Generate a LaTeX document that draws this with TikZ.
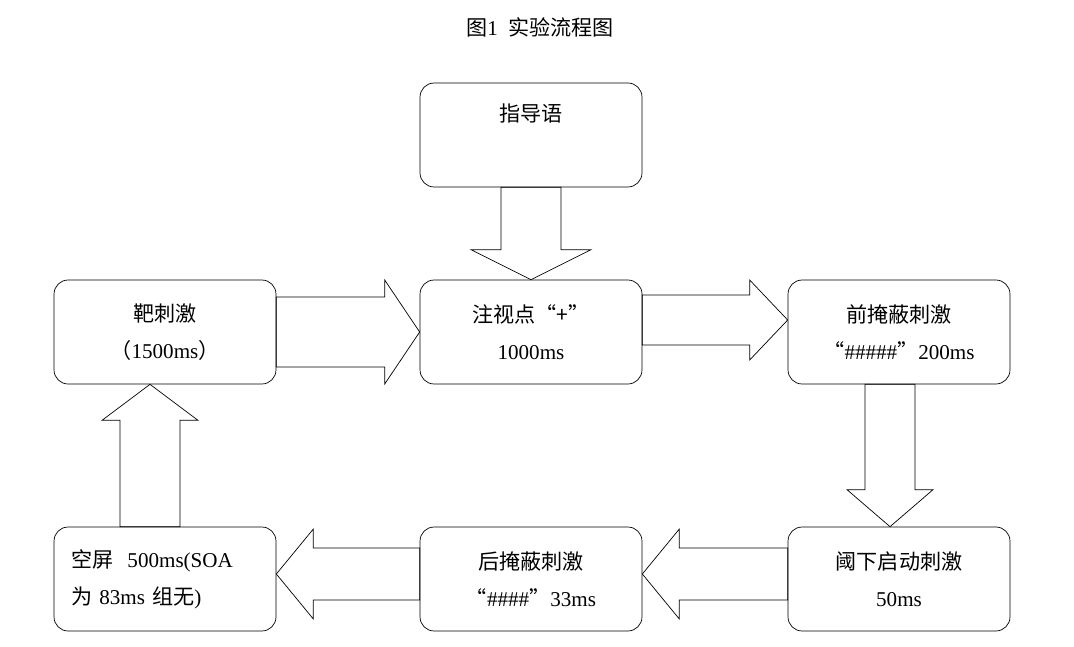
\documentclass[tikz,border=0pt]{standalone}
\usepackage{fontspec}
\setmainfont{Liberation Serif}
\newfontfamily\cjk{Noto Sans CJK SC}
\usetikzlibrary{calc,positioning}
\tikzset{
  step box/.style={
    draw,
    rounded corners=8pt,
    minimum width=4.44cm,
    minimum height=2.08cm,
    align=center,
    font=\fontsize{12}{21}\selectfont
  },
  block arrow/.style={
    draw,
    line join=miter
  }
}
% hollow block arrow: start, end, shaft half width, head half width, head length
\newcommand\barrow[5]{%
  \coordinate (bs) at (#1);
  \coordinate (be) at (#2);
  \coordinate (bh) at ($(be)!#5!(bs)$);
  \draw[block arrow] ($(bs)!#3!90:(be)$) -- ($(bh)!#3!90:(be)$)
    -- ($(bh)!#4!90:(be)$) -- (be) -- ($(bh)!#4!-90:(be)$)
    -- ($(bh)!#3!-90:(be)$) -- ($(bs)!#3!-90:(be)$) -- cycle;}
\begin{document}
\begin{tikzpicture}[x=0.02cm,y=-0.02cm]
  \useasboundingbox (0,0) rectangle (1074,646);
  \node[font=\fontsize{12}{14}\selectfont] (title) at (540,27) {{\cjk 图}1\ \ {\cjk 实验流程图}};
  \node[step box] (guide) at (531,135) {{\cjk 指导语}\\[0.16cm]\mbox{}};
  \node[step box] (tgt)   at (165,332) {{\cjk 靶刺激}\\{\cjk （}1500ms{\cjk ）}};
  \node[step box] (fix)   at (531,332) {{\cjk 注视点“+”}\\1000ms};
  \node[step box] (pre)   at (899,332) {{\cjk 前掩蔽刺激}\\{\cjk “}\#\#\#\#\#{\cjk ”}200ms};
  \node[step box,align=left,text width=3.75cm] (blank) at (165,579)
        {{\cjk 空屏}\ \ 500ms(SOA\\{\cjk 为} 83ms {\cjk 组无})};
  \node[step box] (post)  at (531,579) {{\cjk 后掩蔽刺激}\\{\cjk “}\#\#\#\#{\cjk ”}33ms};
  \node[step box] (thr)   at (899,579) {{\cjk 阈下启动刺激}\\50ms};
  % block arrows between the steps
  \barrow{guide.south}{fix.north}{0.6cm}{1.2cm}{0.6cm}
  \barrow{tgt.east}{fix.west}{0.7cm}{1.04cm}{0.7cm}
  \barrow{$(fix.east)+(0,-12)$}{$(pre.west)+(0,-12)$}{0.5cm}{0.8cm}{0.76cm}
  \barrow{$(pre.south)+(-9,0)$}{$(thr.north)+(-9,0)$}{0.5cm}{0.86cm}{0.74cm}
  \barrow{$(thr.west)+(0,-5)$}{$(post.east)+(0,-5)$}{0.52cm}{0.9cm}{0.74cm}
  \barrow{$(post.west)+(0,-5)$}{$(blank.east)+(0,-5)$}{0.52cm}{0.9cm}{0.74cm}
  \barrow{$(blank.north)+(-15,0)$}{$(tgt.south)+(-15,0)$}{0.6cm}{0.96cm}{0.72cm}
\end{tikzpicture}
\end{document}
